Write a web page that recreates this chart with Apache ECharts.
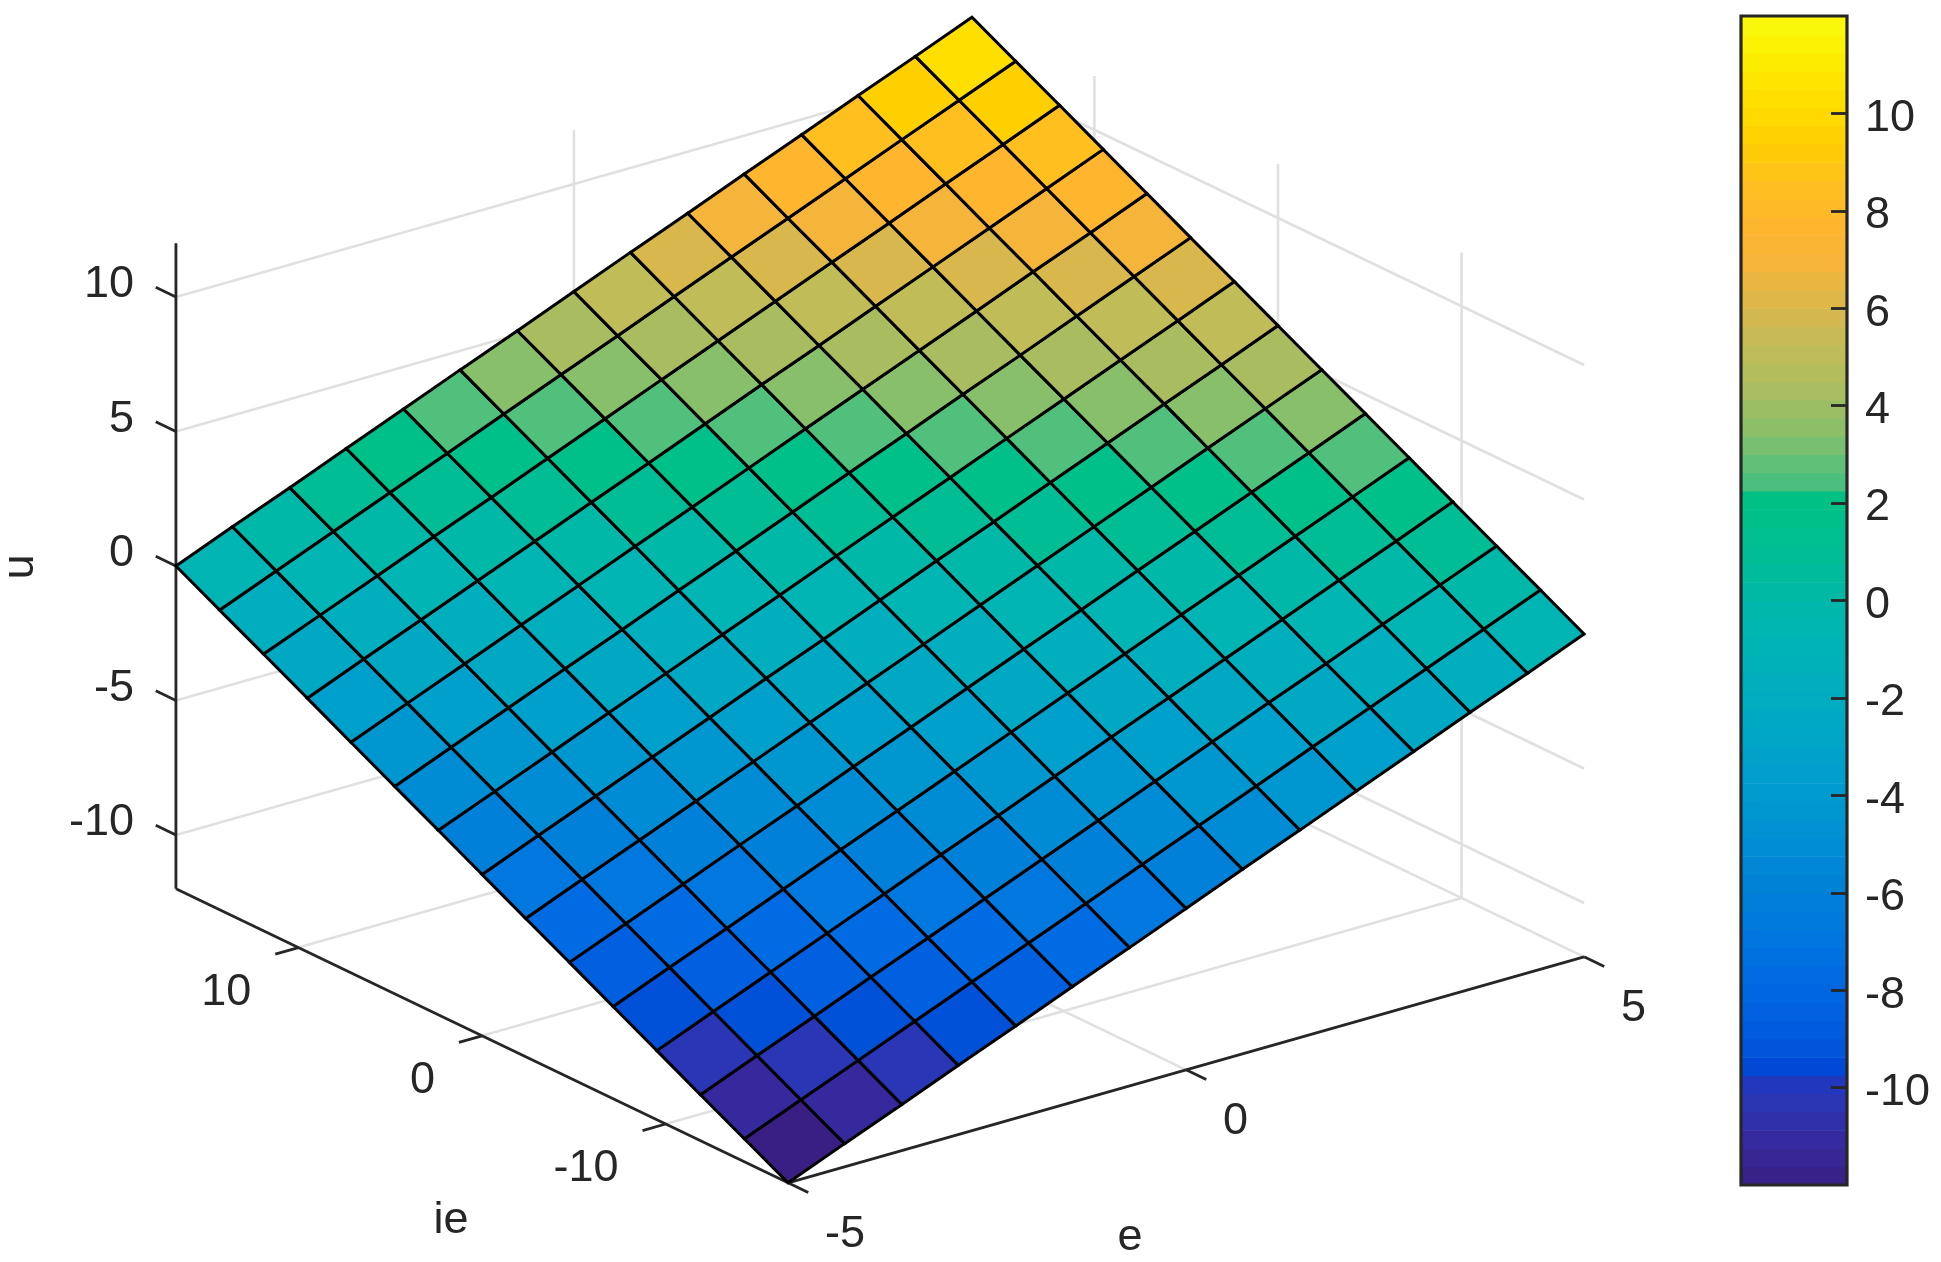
<!DOCTYPE html>
<html>
<head>
<meta charset="utf-8">
<style>html,body{margin:0;padding:0;background:#fff}#c{width:1941px;height:1262px}</style>
<script src="https://cdn.jsdelivr.net/npm/echarts@6/dist/echarts.min.js"></script>
</head>
<body>
<div id="c"></div>
<script>
// ---- data ----
const eValues = [-5, -4.29, -3.57, -2.86, -2.14, -1.43, -0.71, 0, 0.71, 1.43, 2.14, 2.86, 3.57, 4.29, 5];
const ieValues = [-16.67, -14.29, -11.9, -9.52, -7.14, -4.76, -2.38, 0, 2.38, 4.76, 7.14, 9.52, 11.9, 14.29, 16.67];
// rows follow ieValues, columns follow eValues
const uValues = [
  [-12, -11.14, -10.29, -9.43, -8.57, -7.71, -6.86, -6, -5.14, -4.29, -3.43, -2.57, -1.71, -0.86, 0],
  [-11.14, -10.29, -9.43, -8.57, -7.71, -6.86, -6, -5.14, -4.29, -3.43, -2.57, -1.71, -0.86, 0, 0.86],
  [-10.29, -9.43, -8.57, -7.71, -6.86, -6, -5.14, -4.29, -3.43, -2.57, -1.71, -0.86, 0, 0.86, 1.71],
  [-9.43, -8.57, -7.71, -6.86, -6, -5.14, -4.29, -3.43, -2.57, -1.71, -0.86, 0, 0.86, 1.71, 2.57],
  [-8.57, -7.71, -6.86, -6, -5.14, -4.29, -3.43, -2.57, -1.71, -0.86, 0, 0.86, 1.71, 2.57, 3.43],
  [-7.71, -6.86, -6, -5.14, -4.29, -3.43, -2.57, -1.71, -0.86, 0, 0.86, 1.71, 2.57, 3.43, 4.29],
  [-6.86, -6, -5.14, -4.29, -3.43, -2.57, -1.71, -0.86, 0, 0.86, 1.71, 2.57, 3.43, 4.29, 5.14],
  [-6, -5.14, -4.29, -3.43, -2.57, -1.71, -0.86, 0, 0.86, 1.71, 2.57, 3.43, 4.29, 5.14, 6],
  [-5.14, -4.29, -3.43, -2.57, -1.71, -0.86, 0, 0.86, 1.71, 2.57, 3.43, 4.29, 5.14, 6, 6.86],
  [-4.29, -3.43, -2.57, -1.71, -0.86, 0, 0.86, 1.71, 2.57, 3.43, 4.29, 5.14, 6, 6.86, 7.71],
  [-3.43, -2.57, -1.71, -0.86, 0, 0.86, 1.71, 2.57, 3.43, 4.29, 5.14, 6, 6.86, 7.71, 8.57],
  [-2.57, -1.71, -0.86, 0, 0.86, 1.71, 2.57, 3.43, 4.29, 5.14, 6, 6.86, 7.71, 8.57, 9.43],
  [-1.71, -0.86, 0, 0.86, 1.71, 2.57, 3.43, 4.29, 5.14, 6, 6.86, 7.71, 8.57, 9.43, 10.29],
  [-0.86, 0, 0.86, 1.71, 2.57, 3.43, 4.29, 5.14, 6, 6.86, 7.71, 8.57, 9.43, 10.29, 11.14],
  [0, 0.86, 1.71, 2.57, 3.43, 4.29, 5.14, 6, 6.86, 7.71, 8.57, 9.43, 10.29, 11.14, 12]
];
const eTicks = [-5, 0, 5];
const ieTicks = [-10, 0, 10];
const uTicks = [-10, -5, 0, 5, 10];
const colorbarTicks = [-10, -8, -6, -4, -2, 0, 2, 4, 6, 8, 10];
const colorbarLevels = 64;
const colormapStops = [
  [-12, '#391f84'], [-11.14, '#36299d'], [-10.29, '#2a36b5'], [-9.95, '#2238bd'], [-9.6, '#0046d4'], [-9.43, '#0050d8'],
  [-8.57, '#0060e0'], [-7.71, '#006be2'], [-6.86, '#0078e0'], [-6, '#0080d8'], [-5.14, '#008cd5'], [-4.29, '#0097d0'],
  [-3.43, '#00a0cc'], [-2.57, '#00a8c4'], [-1.71, '#00aebe'], [-0.86, '#00b5b4'], [0, '#00b8a8'], [0.86, '#00bd96'],
  [1.71, '#00c08a'], [2.1, '#00c083'], [2.2, '#40bd82'], [2.57, '#50c07c'], [3.43, '#88bf6a'], [4.29, '#a9bd60'],
  [5.14, '#c0bc58'], [6, '#d8b74c'], [6.86, '#f5b53a'], [7.71, '#ffb52e'], [8.57, '#ffc01f'], [9.43, '#ffd000'],
  [10.29, '#ffdf00'], [11.14, '#fcee00'], [12, '#f8fa0d']
];

// ---- orthographic view of the 3D box ----
const eMin = eValues[0], eMax = eValues[eValues.length - 1];
const ieMin = ieValues[0], ieMax = ieValues[ieValues.length - 1];
const uMin = -12, uMax = 12;
const view = { x0: 880, y0: 600, ex: 79.6, ey: -22.6, ix: -18.36, iy: -8.82, uy: -26.9 };
function project(e, ie, u) {
  return [view.x0 + e * view.ex + ie * view.ix, view.y0 + e * view.ey + ie * view.iy + u * view.uy];
}

function hex(c) { return [1, 3, 5].map(k => parseInt(c.substr(k, 2), 16)); }
function colorOf(v) {
  const s = colormapStops;
  if (v <= s[0][0]) return s[0][1];
  for (let k = 1; k < s.length; k++) {
    if (v <= s[k][0]) {
      const t = (v - s[k - 1][0]) / (s[k][0] - s[k - 1][0]);
      const a = hex(s[k - 1][1]), b = hex(s[k][1]);
      return 'rgb(' + a.map((x, n) => Math.round(x + (b[n] - x) * t)).join(',') + ')';
    }
  }
  return s[s.length - 1][1];
}

// ---- build series data ----
const gridSegments = [];
ieTicks.forEach(ie => {
  gridSegments.push([eMin, ie, uMin, eMax, ie, uMin]);
  gridSegments.push([eMax, ie, uMin, eMax, ie, uMax]);
});
eTicks.forEach(e => {
  if (e !== eMin) {
    gridSegments.push([e, ieMin, uMin, e, ieMax, uMin]);
    gridSegments.push([e, ieMax, uMin, e, ieMax, uMax]);
  }
});
uTicks.forEach(u => {
  gridSegments.push([eMin, ieMax, u, eMax, ieMax, u]);
  gridSegments.push([eMax, ieMax, u, eMax, ieMin, u]);
});

const axisSegments = [
  [eMin, ieMax, uMin, eMin, ieMax, uMax],
  [eMin, ieMin, uMin, eMin, ieMax, uMin],
  [eMin, ieMin, uMin, eMax, ieMin, uMin]
];
uTicks.forEach(u => axisSegments.push([eMin, ieMax, u, eMin, ieMax + 1.1, u]));
ieTicks.forEach(ie => axisSegments.push([eMin, ie, uMin, eMin - 0.29, ie, uMin]));
eTicks.forEach(e => axisSegments.push([e, ieMin, uMin, e, ieMin - 1.1, uMin]));

const cells = [];
for (let j = 0; j < ieValues.length - 1; j++) {
  for (let i = 0; i < eValues.length - 1; i++) {
    cells.push([eValues[i], ieValues[j], eValues[i + 1], ieValues[j + 1],
      uValues[j][i], uValues[j][i + 1], uValues[j + 1][i + 1], uValues[j + 1][i]]);
  }
}

const labels = [];
uTicks.forEach(u => { const p = project(eMin, ieMax, u); labels.push([p[0] - 42, p[1] - 12, String(u), 'right', 0]); });
ieTicks.forEach(ie => { const p = project(eMin, ie, uMin); labels.push([p[0] - 47, p[1] + 45, String(ie), 'right', 0]); });
eTicks.forEach(e => { const p = project(e, ieMin, uMin); labels.push([p[0] + 37, p[1] + 52, String(e), 'left', 0]); });
(function () {
  const pi = project(eMin, 0, uMin); labels.push([pi[0] - 31, pi[1] + 185, 'ie', 'center', 0]);
  const pe = project(0, ieMin, uMin); labels.push([pe[0] - 56, pe[1] + 168, 'e', 'center', 0]);
  const pu = project(eMin, ieMax, 0); labels.push([pu[0] - 155, pu[1] + 1, 'u', 'center', 1]);
})();

const bands = [];
for (let k = 0; k < colorbarLevels; k++) {
  bands.push([uMin + (uMax - uMin) * k / colorbarLevels, uMin + (uMax - uMin) * (k + 1) / colorbarLevels]);
}

function segmentRenderer(color, width) {
  return function (params, api) {
    const a = project(api.value(0), api.value(1), api.value(2));
    const b = project(api.value(3), api.value(4), api.value(5));
    const pa = api.coord(a), pb = api.coord(b);
    return { type: 'line', shape: { x1: pa[0], y1: pa[1], x2: pb[0], y2: pb[1] },
      style: { stroke: color, lineWidth: width, lineCap: 'butt' } };
  };
}

const textColor = '#262626';
const chart = echarts.init(document.getElementById('c'), null, { renderer: 'canvas' });
chart.setOption({
  animation: false,
  backgroundColor: '#ffffff',
  textStyle: { fontFamily: 'Liberation Sans' },
  grid: [
    { left: 0, top: 0, width: 1941, height: 1262, show: false },
    { left: 1741, top: 16, width: 106, height: 1169, show: false }
  ],
  xAxis: [
    { gridIndex: 0, type: 'value', min: 0, max: 1941, show: false },
    { gridIndex: 1, type: 'value', min: 0, max: 1, show: false }
  ],
  yAxis: [
    { gridIndex: 0, type: 'value', min: 0, max: 1262, inverse: true, show: false },
    { gridIndex: 1, type: 'value', min: uMin, max: uMax, position: 'right', z: 6,
      splitLine: { show: false }, axisLine: { show: false, onZero: false },
      axisTick: { show: true, inside: true, length: 16, customValues: colorbarTicks, lineStyle: { color: textColor, width: 2.8 } },
      axisLabel: { show: false } }
  ],
  series: [
    { type: 'custom', name: 'grid', xAxisIndex: 0, yAxisIndex: 0, z: 1, silent: true, clip: false,
      data: gridSegments, renderItem: segmentRenderer('#e0e0e0', 2.6) },
    { type: 'custom', name: 'axes', xAxisIndex: 0, yAxisIndex: 0, z: 2, silent: true, clip: false,
      data: axisSegments, renderItem: segmentRenderer(textColor, 2.8) },
    { type: 'custom', name: 'u surface', xAxisIndex: 0, yAxisIndex: 0, z: 3, silent: true, clip: false,
      data: cells,
      renderItem: function (params, api) {
        const e0 = api.value(0), i0 = api.value(1), e1 = api.value(2), i1 = api.value(3);
        const u00 = api.value(4), u10 = api.value(5), u11 = api.value(6), u01 = api.value(7);
        const pts = [project(e0, i0, u00), project(e1, i0, u10), project(e1, i1, u11), project(e0, i1, u01)].map(p => api.coord(p));
        return { type: 'polygon', shape: { points: pts },
          style: { fill: colorOf(u00), stroke: '#000000', lineWidth: 3, lineJoin: 'miter' } };
      } },
    { type: 'custom', name: 'labels', xAxisIndex: 0, yAxisIndex: 0, z: 4, silent: true, clip: false,
      data: labels.map(l => [l[0], l[1]]),
      renderItem: function (params, api) {
        const d = labels[params.dataIndex];
        const p = api.coord([d[0], d[1]]);
        return { type: 'text', x: p[0], y: p[1], rotation: d[4] ? Math.PI / 2 : 0,
          style: { text: d[2], fill: textColor, font: '45px "Liberation Sans"', textAlign: d[3], textVerticalAlign: 'middle' } };
      } },
    { type: 'custom', name: 'colorbar', xAxisIndex: 1, yAxisIndex: 1, z: 3, silent: true, clip: false,
      data: bands,
      renderItem: function (params, api) {
        const lo = api.value(0), hi = api.value(1);
        const a = api.coord([0, hi]), b = api.coord([1, lo]);
        return { type: 'rect', shape: { x: a[0], y: a[1], width: b[0] - a[0], height: b[1] - a[1] + 0.6 },
          style: { fill: colorOf((lo + hi) / 2), stroke: null } };
      } },
    { type: 'custom', name: 'colorbar box', xAxisIndex: 1, yAxisIndex: 1, z: 5, silent: true, clip: false,
      data: [[uMin, uMax]],
      renderItem: function (params, api) {
        const a = api.coord([0, api.value(1)]), b = api.coord([1, api.value(0)]);
        return { type: 'rect', shape: { x: a[0], y: a[1], width: b[0] - a[0], height: b[1] - a[1] },
          style: { fill: 'none', stroke: textColor, lineWidth: 3.2 } };
      } },
    { type: 'custom', name: 'colorbar labels', xAxisIndex: 1, yAxisIndex: 1, z: 6, silent: true, clip: false,
      data: colorbarTicks.map(v => [1, v]),
      renderItem: function (params, api) {
        const p = api.coord([api.value(0), api.value(1)]);
        return { type: 'text', x: p[0] + 18, y: p[1] + 5,
          style: { text: String(colorbarTicks[params.dataIndex]), fill: textColor, font: '45px "Liberation Sans"', textAlign: 'left', textVerticalAlign: 'middle' } };
      } }
  ]
});
</script>
</body>
</html>
